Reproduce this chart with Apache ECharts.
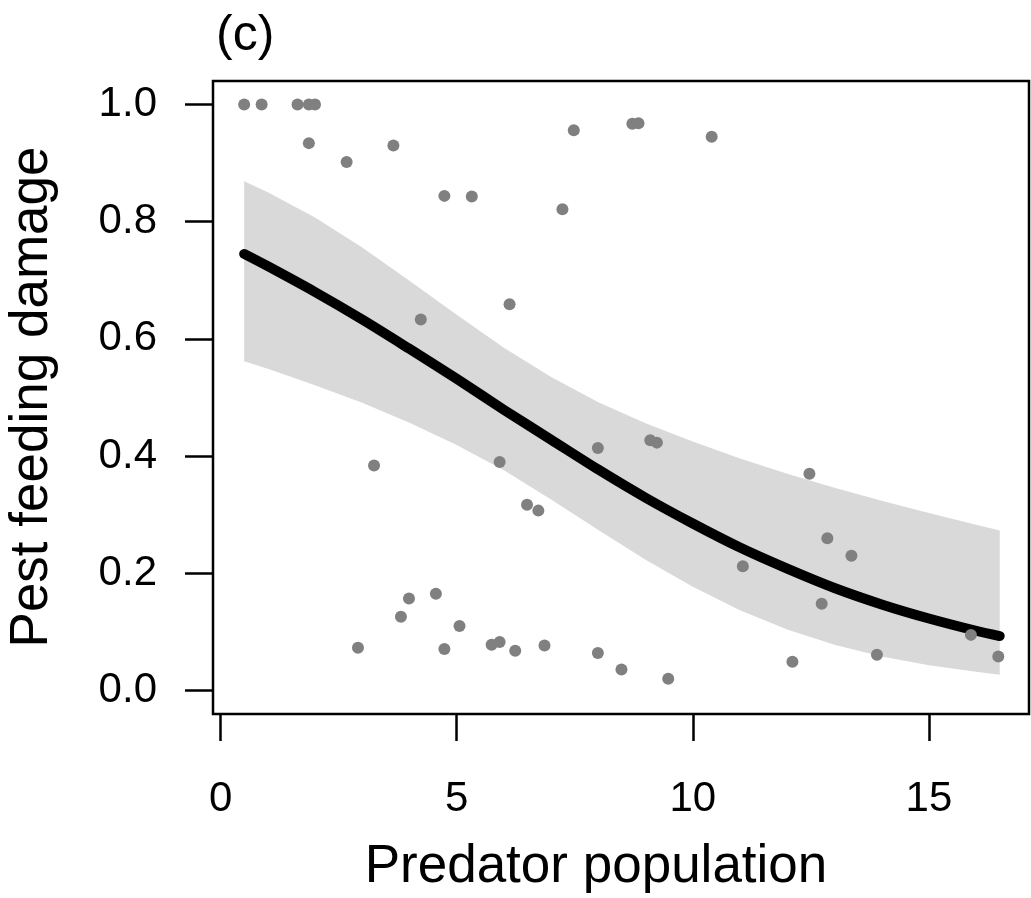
<!DOCTYPE html>
<html>
<head>
<meta charset="utf-8">
<script src="https://cdn.jsdelivr.net/npm/echarts@6/dist/echarts.min.js"></script>
<style>
html,body{margin:0;padding:0;background:#fff;}
#chart{width:1031px;height:898px;}
</style>
</head>
<body>
<div id="chart"></div>
<script>
// Observed points
const predator = [0.5, 0.87, 1.63, 1.87, 2.0, 1.87, 3.66, 2.67, 7.48, 4.74, 5.32, 7.24, 6.12, 4.24, 8.72, 8.85, 10.40,
  3.25, 5.91, 7.99, 6.49, 6.73, 3.99, 4.56, 3.82, 5.06, 2.91, 4.74, 5.74, 5.91, 6.24, 6.86, 7.99, 8.49,
  9.10, 9.24, 12.47, 12.85, 13.36, 11.06, 12.73, 15.89, 16.47, 13.90, 12.11, 9.48];
const damage = [1.0, 1.0, 1.0, 1.0, 1.0, 0.934, 0.930, 0.902, 0.956, 0.844, 0.843, 0.821, 0.659, 0.633, 0.967, 0.968, 0.945,
  0.384, 0.390, 0.414, 0.317, 0.307, 0.157, 0.165, 0.126, 0.110, 0.073, 0.071, 0.078, 0.083, 0.068, 0.077, 0.064, 0.036,
  0.427, 0.423, 0.370, 0.260, 0.230, 0.212, 0.148, 0.095, 0.058, 0.061, 0.049, 0.020];

// Fitted curve and confidence band
const curveX = [0.5, 1, 2, 3, 4, 5, 6, 7, 8, 9, 10, 11, 12, 13, 14, 15, 16, 16.5];
const fitVals = [0.745, 0.724, 0.680, 0.633, 0.583, 0.532, 0.479, 0.428, 0.377, 0.329, 0.285, 0.244, 0.208, 0.175, 0.147, 0.123, 0.102, 0.093];
const upperVals = [0.869, 0.850, 0.807, 0.756, 0.699, 0.641, 0.585, 0.535, 0.492, 0.456, 0.425, 0.396, 0.370, 0.346, 0.324, 0.303, 0.283, 0.273];
const lowerVals = [0.562, 0.549, 0.521, 0.491, 0.457, 0.419, 0.376, 0.326, 0.274, 0.223, 0.177, 0.137, 0.104, 0.078, 0.058, 0.043, 0.032, 0.027];

// Tick labels
const xTicks = [0, 5, 10, 15];
const yTicks = [0, 0.2, 0.4, 0.6, 0.8, 1.0];

const FONT = 'Liberation Sans, Arial, Helvetica, sans-serif';
const chart = echarts.init(document.getElementById('chart'), null, {renderer: 'canvas'});

const option = {
  animation: false,
  backgroundColor: '#ffffff',
  grid: {
    left: 213, right: 2, top: 81, bottom: 184,
    show: true, borderColor: '#000', borderWidth: 2.5, backgroundColor: 'transparent'
  },
  xAxis: {
    type: 'value', min: -0.16, max: 17.12,
    axisLine: {show: false, onZero: false},
    splitLine: {show: false},
    axisTick: {show: true, inside: false, customValues: xTicks, length: 27, lineStyle: {color: '#000', width: 2.5}},
    axisLabel: {customValues: xTicks, margin: 64, fontSize: 42, color: '#000', fontFamily: FONT,
      formatter: v => String(v)}
  },
  yAxis: {
    type: 'value', min: -0.04, max: 1.04,
    axisLine: {show: false, onZero: false},
    splitLine: {show: false},
    axisTick: {show: true, inside: false, customValues: yTicks, length: 28, lineStyle: {color: '#000', width: 2.5}},
    axisLabel: {customValues: yTicks, margin: 56, fontSize: 42, color: '#000', fontFamily: FONT,
      formatter: v => Number(v).toFixed(1)}
  },
  graphic: [
    {type: 'text', left: 216, top: 11, style: {text: '(c)', fontSize: 50, fontFamily: FONT, fill: '#000'}},
    {type: 'text', x: 596, y: 867, style: {text: 'Predator population', fontSize: 53, fontFamily: FONT, fill: '#000',
      align: 'center', verticalAlign: 'middle'}},
    {type: 'text', x: 32, y: 397, rotation: Math.PI / 2, style: {text: 'Pest feeding damage', fontSize: 53, fontFamily: FONT, fill: '#000',
      align: 'center', verticalAlign: 'middle'}}
  ],
  series: [
    {
      type: 'custom',
      z: 1,
      data: curveX.map((x, i) => [x, lowerVals[i], upperVals[i]]),
      encode: {x: 0, y: [1, 2]},
      renderItem: function (params, api) {
        if (params.dataIndex !== 0) return null;
        const pts = [];
        for (let i = 0; i < curveX.length; i++) pts.push(api.coord([curveX[i], upperVals[i]]));
        for (let i = curveX.length - 1; i >= 0; i--) pts.push(api.coord([curveX[i], lowerVals[i]]));
        return {type: 'polygon', shape: {points: pts}, style: {fill: '#d9d9d9'}};
      }
    },
    {
      type: 'line',
      z: 2,
      data: curveX.map((x, i) => [x, fitVals[i]]),
      smooth: 0.3,
      symbol: 'none',
      lineStyle: {color: '#000', width: 10, cap: 'round', join: 'round'}
    },
    {
      type: 'scatter',
      z: 3,
      data: predator.map((x, i) => [x, damage[i]]),
      symbolSize: 12,
      itemStyle: {color: '#808080', opacity: 1}
    }
  ]
};
chart.setOption(option);
</script>
</body>
</html>
